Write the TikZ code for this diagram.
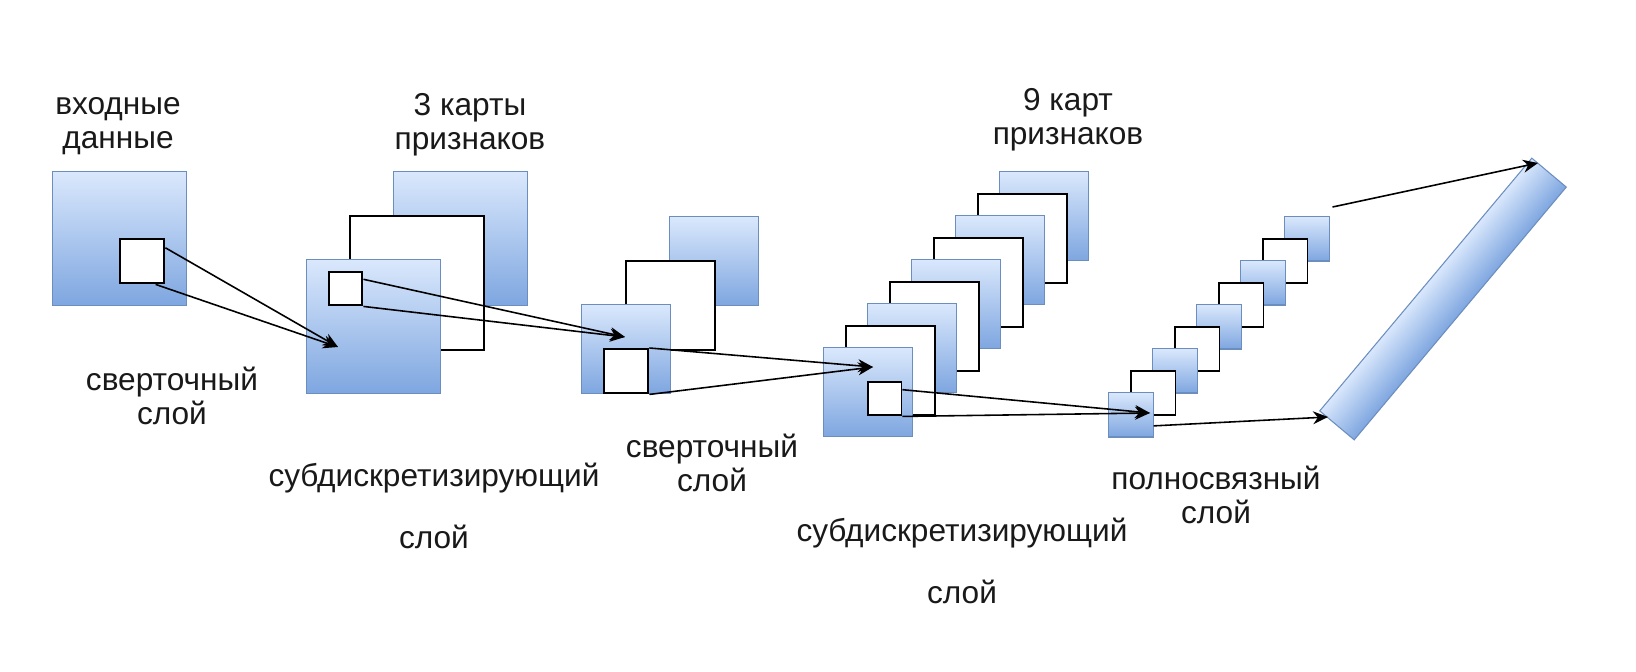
\documentclass[tikz,border=0pt]{standalone}
\usepackage{fontspec}
\setmainfont{Liberation Sans}
\usetikzlibrary{arrows.meta,positioning}
\definecolor{maptop}{RGB}{218,232,252}
\definecolor{mapbot}{RGB}{126,166,224}
\definecolor{mapline}{RGB}{108,142,191}

\begin{document}
\begin{tikzpicture}[
  x=0.02cm, y=-0.02cm,
  lbl/.style={align=center, text=black!90, font=\fontsize{18}{19.5}\selectfont},
  fmap/.style={rectangle, draw=mapline, line width=0.6pt, top color=maptop,
               bottom color=mapbot, inner sep=0pt, anchor=north west},
  wmap/.style={rectangle, draw=black, line width=1.1pt, fill=white,
               inner sep=0pt, anchor=north west},
  big/.style={minimum size=2.68cm},
  mid/.style={minimum size=1.78cm},
  sml/.style={minimum size=0.89cm},
  tiny/.style={minimum size=0.67cm},
  conn/.style={-{Stealth[length=0.3cm,width=0.26cm]}, line width=0.9pt}
]
  \useasboundingbox (0,0) rectangle (1636,672);

  % input
  \node[fmap, big] (in) at (52,171) {};
  \node[wmap, sml] (p1) at (119,238) {};

  % first conv layer: 3 maps
  \node[fmap, big] (c1c) at (393,171) {};
  \node[wmap, big] (c1b) at (349,215) {};
  \node[fmap, big] (c1a) at (306,259) {};
  \node[wmap, tiny] (p2) at (328,271) {};

  % subsampling
  \node[fmap, mid] (s1c) at (669,216) {};
  \node[wmap, mid] (s1b) at (625,260) {};
  \node[fmap, mid] (s1a) at (581,304) {};
  \node[wmap, sml] (p3) at (603,348) {};

  % second conv layer: 9 maps
  \foreach \i in {8,...,0}{
    \ifodd\i
      \node[wmap, mid] (c2m\i) at (823+22*\i,347-22*\i) {};
    \else
      \node[fmap, mid] (c2m\i) at (823+22*\i,347-22*\i) {};
    \fi
  }
  \node[wmap, tiny] (p4) at (867,381) {};

  % second subsampling
  \foreach \i in {8,...,0}{
    \ifodd\i
      \node[wmap, sml] (s2m\i) at (1108+22*\i,392-22*\i) {};
    \else
      \node[fmap, sml] (s2m\i) at (1108+22*\i,392-22*\i) {};
    \fi
  }

  % fully connected (canvas rotation so the shading turns too)
  \begin{scope}[transform canvas={shift={(1443,299)}, rotate=50}]
    \node[fmap, anchor=center, minimum width=6.6cm, minimum height=0.9cm]
      (fc) at (0,0) {};
  \end{scope}

  \coordinate (t1) at (338,347);
  \coordinate (t2) at (625,337);
  \coordinate (t3) at (873,367);
  \coordinate (t4) at (1150,413);
  \coordinate (t5) at (1328,417);
  \coordinate (t6) at (1538,163);

  \draw[conn] (p1.30)  -- (t1);
  \draw[conn] (p1.-60) -- (t1);
  \draw[conn] (p2.28)  -- (t2);
  \draw[conn] (p2.south east) -- (t2);
  \draw[conn] (p3.north east) -- (t3);
  \draw[conn] (p3.south east) -- (t3);
  \draw[conn] (p4.27)  -- (t4);
  \draw[conn] (p4.south east) -- (t4);
  \draw[conn] (s2m0.-26) -- (t5);
  \draw[conn] ([shift={(3,-9)}]s2m8.north east) -- (t6);

  % labels
  \node[lbl] (lin)  at (118,126)  {входные\\данные};
  \node[lbl] (l3k)  at (470,125)  {3 карты\\признаков};
  \node[lbl] (l9k)  at (1068,120) {9 карт\\признаков};
  \node[lbl] (lcv1) at (172,396)  {сверточный\\слой};
  \node[lbl] (lsb1) at (434,506)  {субдискретизирующий\\[16pt]слой};
  \node[lbl] (lcv2) at (712,463)  {сверточный\\слой};
  \node[lbl] (lsb2) at (962,561)  {субдискретизирующий\\[16pt]слой};
  \node[lbl] (lfc)  at (1216,495) {полносвязный\\слой};
\end{tikzpicture}
\end{document}
